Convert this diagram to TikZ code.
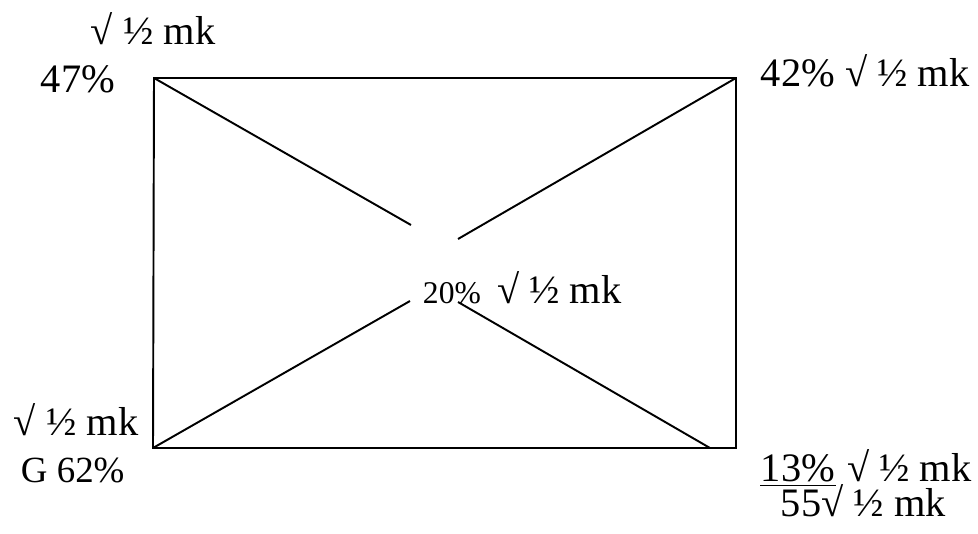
\documentclass[tikz,border=0pt]{standalone}
\usepackage{fontspec}
\setmainfont{Liberation Serif}
\usetikzlibrary{positioning}

\begin{document}
\begin{tikzpicture}[x=0.02cm, y=-0.02cm, line width=1.1pt,
    every node/.style={inner sep=0pt, anchor=base west, font=\fontsize{23}{26}\selectfont}]
  \useasboundingbox (0,0) rectangle (978,534);
  % frame corners and inner line ends
  \coordinate (TL) at (154,78);
  \coordinate (TR) at (736,78);
  \coordinate (BL) at (153,448);
  \coordinate (BR) at (736,448);
  \coordinate (TLend) at (411,225);
  \coordinate (TRend) at (458,239);
  \coordinate (BLend) at (410,301);
  \coordinate (BRstart) at (458,302);
  \coordinate (BRend) at (710,448);
  \draw (TL) -- (TR) -- (BR) -- (BL) -- cycle;
  \draw (TL) -- (TLend);
  \draw (TR) -- (TRend);
  \draw (BL) -- (BLend);
  \draw (BRstart) -- (BRend);
  % labels
  \node (topmk) at (90,44) {√ ½ mk};
  \node (tlpct) at (40,92) {47\%};
  \node (trmk) at (760,86) {42\% √ ½ mk};
  \node[font=\fontsize{18}{22}\selectfont] (midpct) at (422,303) {20\%};
  \node[right=0pt of midpct.base east, anchor=base west] (midmk) {\hspace{0.35em}√ ½ mk};
  \node (blmk) at (13,435) {√ ½ mk};
  \node[font=\fontsize{21}{24}\selectfont] (blpct) at (20,482) {G 62\%};
  \node (brpct) at (760,481) {13\%};
  \node[right=0pt of brpct.base east, anchor=base west] (brmk) {\hspace{0.25em}√ ½ mk};
  \draw[line width=0.8pt] ([yshift=-2.6pt]brpct.base west) -- ([yshift=-2.6pt]brpct.base east);
  \node (brtot) at (780,516) {55√ ½ mk};
\end{tikzpicture}
\end{document}
